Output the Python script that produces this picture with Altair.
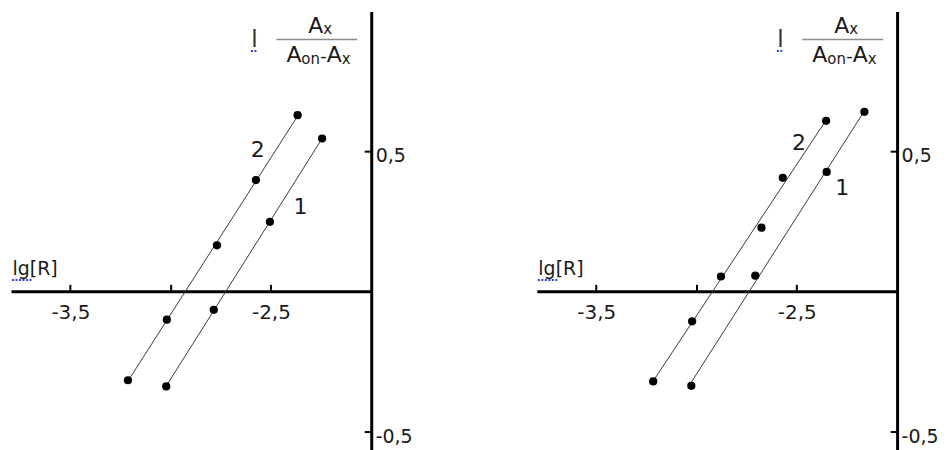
import altair as alt
import pandas as pd

# ---------------- data ----------------
# left panel
LEFT_S2_X = [-3.213, -3.019, -2.769, -2.575, -2.367]
LEFT_S2_Y = [-0.317, -0.101, 0.164, 0.397, 0.628]
LEFT_S1_X = [-3.022, -2.785, -2.505, -2.245]
LEFT_S1_Y = [-0.339, -0.066, 0.248, 0.545]
# right panel
RIGHT_S2_X = [-3.216, -3.022, -2.878, -2.676, -2.570, -2.354]
RIGHT_S2_Y = [-0.321, -0.107, 0.053, 0.227, 0.405, 0.608]
RIGHT_S1_X = [-3.026, -2.707, -2.351, -2.163]
RIGHT_S1_Y = [-0.337, 0.056, 0.426, 0.640]

SERIES_NAMES = ["1", "2"]
X_TICKS = [-3.5, -3.0, -2.5]
X_TICK_LABELS = ["-3,5", "", "-2,5"]
Y_TICKS = [0.5, -0.5]
Y_TICK_LABELS = ["0,5", "-0,5"]
X_TITLE = "lg[R]"

# ---------------- styling ----------------
FONT = "DejaVu Sans"
TXT = "#1a1a1a"
BLUE = "#2b3fe0"
W, H = 361, 439
X_DOMAIN = [-3.796, -2.0]
Y_DOMAIN = [-0.564, 0.998]
ZERO_PX = H * (Y_DOMAIN[1] - 0) / (Y_DOMAIN[1] - Y_DOMAIN[0])


def label_expr(vals, labels):
    expr = "''"
    for v, l in reversed(list(zip(vals, labels))):
        expr = f"abs(datum.value - ({v})) < 1e-6 ? '{l}' : " + expr
    return expr


x_axis = alt.Axis(
    orient="top", offset=-ZERO_PX, values=X_TICKS,
    labelExpr=label_expr(X_TICKS, X_TICK_LABELS),
    tickSize=7, tickWidth=2, tickColor="black",
    domainColor="black", domainWidth=3, grid=False,
    labelFont=FONT, labelFontSize=20, labelColor=TXT,
    labelPadding=-34, labelBaseline="alphabetic", labelAlign="center",
    labelAngle=0, labelOverlap=False, labelFlush=False,
    title=X_TITLE, titleFont=FONT, titleFontSize=19, titleFontWeight="normal",
    titleColor=TXT, titleX=1, titleY=-17, titleAlign="left",
    titleBaseline="alphabetic", titleAngle=0,
)
y_axis = alt.Axis(
    orient="left", offset=-W, values=Y_TICKS,
    labelExpr=label_expr(Y_TICKS, Y_TICK_LABELS),
    tickSize=7, tickWidth=2, tickColor="black",
    domainColor="black", domainWidth=3, grid=False,
    labelFont=FONT, labelFontSize=19, labelColor=TXT,
    labelPadding=-11, labelBaseline="alphabetic", labelAlign="left",
    labelOffset=10.5, labelOverlap=False, labelFlush=False,
    title=None,
)

xs = alt.Scale(domain=X_DOMAIN, nice=False, zero=False)
ys = alt.Scale(domain=Y_DOMAIN, nice=False, zero=False)
X_ENC = alt.X("x:Q", scale=xs, axis=x_axis)
Y_ENC = alt.Y("y:Q", scale=ys, axis=y_axis)

ONE = alt.Data(values=[{}])


def txt(s, x, y, size, align="left", color=TXT, font=FONT):
    return alt.Chart(ONE).mark_text(
        text=s, align=align, baseline="alphabetic", font=font,
        fontSize=size, color=color,
    ).encode(x=alt.value(x), y=alt.value(y))


def squiggle(x1, x2, y):
    # spell-check style wavy underline, approximated by a dotted blue stroke
    return alt.Chart(ONE).mark_rule(
        color=BLUE, strokeWidth=2, strokeDash=[2, 1.5]
    ).encode(x=alt.value(x1), x2=alt.value(x2), y=alt.value(y))


def y_title():
    frac = alt.Chart(ONE).mark_rule(color="#8c8c8c", strokeWidth=1.5).encode(
        x=alt.value(266), x2=alt.value(347), y=alt.value(28)
    )
    return [
        txt("l", 244, 35.5, 23, align="center", color="#333333"),
        squiggle(240.5, 247, 39.5),
        txt("A", 298, 22, 22),
        txt("x", 313, 22.5, 15),
        frac,
        txt("A", 276, 51, 22),
        txt("on", 291, 52.5, 15),
        txt("-", 310, 51, 18),
        txt("A", 316.5, 51, 22),
        txt("x", 331.5, 52.5, 15),
        squiggle(1, 21, 269),
    ]


def panel(s1x, s1y, s2x, s2y, lab2, lab1):
    df = pd.DataFrame({
        "x": s1x + s2x,
        "y": s1y + s2y,
        "series": [SERIES_NAMES[0]] * len(s1x) + [SERIES_NAMES[1]] * len(s2x),
    })
    base = alt.Chart(df)
    lines = base.transform_regression("x", "y", groupby=["series"]).mark_line(
        color="#3a3a3a", strokeWidth=1
    ).encode(x=X_ENC, y=Y_ENC, detail="series:N")
    pts = base.mark_circle(size=68, color="black", opacity=1).encode(
        x=X_ENC, y=Y_ENC
    )
    labels = [
        txt(SERIES_NAMES[1], lab2[0], lab2[1], 22, align="center"),
        txt(SERIES_NAMES[0], lab1[0], lab1[1], 22, align="center"),
    ]
    return alt.layer(lines, pts, *labels, *y_title()).properties(
        width=W, height=H
    )


left = panel(LEFT_S1_X, LEFT_S1_Y, LEFT_S2_X, LEFT_S2_Y, (247.3, 145.7), (290, 203))
right = panel(RIGHT_S1_X, RIGHT_S1_Y, RIGHT_S2_X, RIGHT_S2_Y, (262.8, 139), (306, 184))

chart = alt.hconcat(left, right, spacing=166, bounds="flush").properties(
    padding={"left": 3, "top": 3, "right": 0, "bottom": 0},
    background="white",
).configure_view(stroke=None)

chart.save("out.html", embed_options={"renderer": "svg", "actions": False})
